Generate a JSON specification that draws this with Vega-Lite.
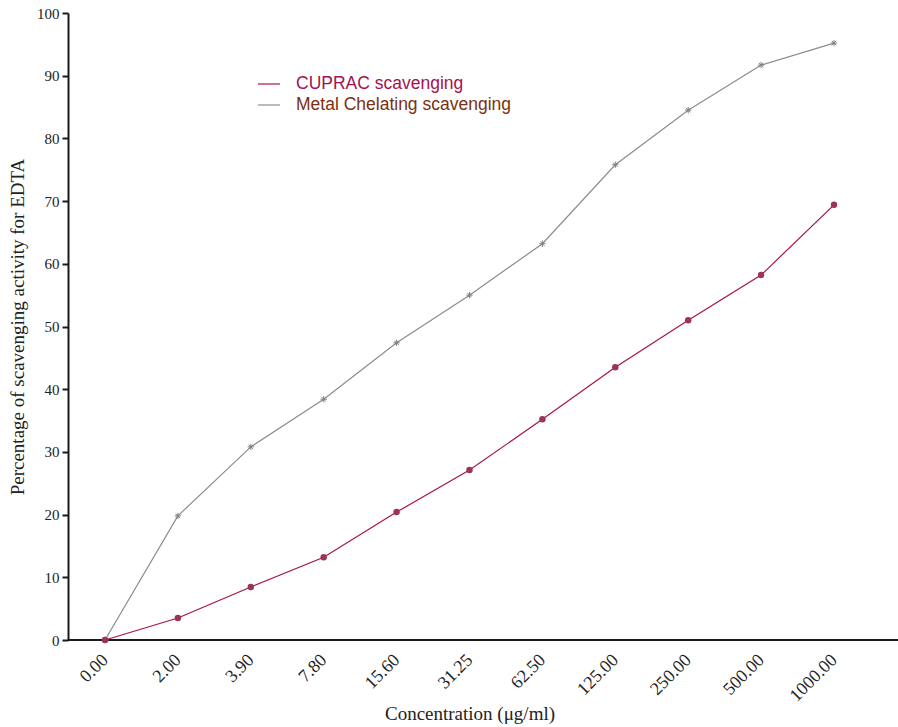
{
  "$schema": "https://vega.github.io/schema/vega-lite/v6.json",
  "width": 830,
  "height": 627,
  "autosize": "none",
  "padding": {"left": 68, "top": 13, "right": 0, "bottom": 87},
  "background": "white",
  "config": {"view": {"stroke": null}},
  "data": {
    "values": [
      {"conc": "0.00", "series": "CUPRAC scavenging", "value": 0},
      {"conc": "2.00", "series": "CUPRAC scavenging", "value": 3.5},
      {"conc": "3.90", "series": "CUPRAC scavenging", "value": 8.45},
      {"conc": "7.80", "series": "CUPRAC scavenging", "value": 13.2},
      {"conc": "15.60", "series": "CUPRAC scavenging", "value": 20.4},
      {"conc": "31.25", "series": "CUPRAC scavenging", "value": 27.1},
      {"conc": "62.50", "series": "CUPRAC scavenging", "value": 35.2},
      {"conc": "125.00", "series": "CUPRAC scavenging", "value": 43.5},
      {"conc": "250.00", "series": "CUPRAC scavenging", "value": 51.0},
      {"conc": "500.00", "series": "CUPRAC scavenging", "value": 58.2},
      {"conc": "1000.00", "series": "CUPRAC scavenging", "value": 69.4},
      {"conc": "0.00", "series": "Metal Chelating scavenging", "value": 0},
      {"conc": "2.00", "series": "Metal Chelating scavenging", "value": 19.8},
      {"conc": "3.90", "series": "Metal Chelating scavenging", "value": 30.8},
      {"conc": "7.80", "series": "Metal Chelating scavenging", "value": 38.4},
      {"conc": "15.60", "series": "Metal Chelating scavenging", "value": 47.4},
      {"conc": "31.25", "series": "Metal Chelating scavenging", "value": 55.0},
      {"conc": "62.50", "series": "Metal Chelating scavenging", "value": 63.2},
      {"conc": "125.00", "series": "Metal Chelating scavenging", "value": 75.8},
      {"conc": "250.00", "series": "Metal Chelating scavenging", "value": 84.5},
      {"conc": "500.00", "series": "Metal Chelating scavenging", "value": 91.7},
      {"conc": "1000.00", "series": "Metal Chelating scavenging", "value": 95.2}
    ]
  },
  "encoding": {
    "x": {
      "field": "conc",
      "type": "ordinal",
      "sort": null,
      "scale": {
        "type": "point",
        "padding": 0,
        "domain": ["0.00", "2.00", "3.90", "7.80", "15.60", "31.25", "62.50", "125.00", "250.00", "500.00", "1000.00"],
        "range": [37, 766]
      },
      "axis": {
        "title": "Concentration (μg/ml)",
        "ticks": false,
        "domain": false,
        "grid": false,
        "labelAngle": -45,
        "labelAlign": "right",
        "labelBaseline": "middle",
        "labelPadding": 17,
        "labelFont": "Liberation Serif",
        "labelFontSize": 18,
        "labelColor": "#222222",
        "titleFont": "Liberation Serif",
        "titleFontSize": 19,
        "titleFontWeight": "normal",
        "titleColor": "#222222",
        "titlePadding": 0
      }
    },
    "y": {
      "field": "value",
      "type": "quantitative",
      "scale": {"domain": [0, 100]},
      "axis": {
        "title": "Percentage of scavenging activity for EDTA",
        "values": [0, 10, 20, 30, 40, 50, 60, 70, 80, 90, 100],
        "grid": false,
        "domainColor": "#1a1a1a",
        "domainWidth": 2,
        "tickColor": "#1a1a1a",
        "tickWidth": 2,
        "tickSize": 6,
        "labelFont": "Liberation Serif",
        "labelFontSize": 15,
        "labelColor": "#222222",
        "labelPadding": 3,
        "titleFont": "Liberation Serif",
        "titleFontSize": 19,
        "titleFontWeight": "normal",
        "titleColor": "#222222",
        "titlePadding": 9
      }
    }
  },
  "layer": [
    {
      "mark": {"type": "rule", "color": "#1a1a1a", "strokeWidth": 2},
      "encoding": {"x": null, "y": {"datum": 0}}
    },
    {
      "mark": {"type": "line", "strokeWidth": 1.2},
      "encoding": {
        "color": {
          "field": "series",
          "type": "nominal",
          "scale": {"domain": ["CUPRAC scavenging", "Metal Chelating scavenging"], "range": ["#a8124f", "#8c8c8c"]},
          "legend": {
            "orient": "none", "legendX": 189, "legendY": 59, "title": null,
            "symbolType": "stroke", "symbolSize": 484, "symbolStrokeWidth": 1.2,
            "labelFont": "Liberation Sans", "labelFontSize": 17.5, "labelLimit": 0,
            "labelOffset": 15, "rowPadding": 0, "padding": 0,
            "labelColor": {"expr": "datum.label == 'CUPRAC scavenging' ? '#a5124e' : '#7b3011'"}
          }
        }
      }
    },
    {
      "transform": [{"filter": "datum.series == 'Metal Chelating scavenging'"}],
      "mark": {"type": "point", "shape": "M-1,0L1,0M0,-1L0,1M-0.7,-0.7L0.7,0.7M-0.7,0.7L0.7,-0.7", "filled": false, "size": 40, "color": "#808080", "strokeWidth": 1, "opacity": 1}
    },
    {
      "transform": [{"filter": "datum.series == 'CUPRAC scavenging'"}],
      "mark": {"type": "circle", "size": 42, "color": "#9c3358", "opacity": 1}
    }
  ]
}
